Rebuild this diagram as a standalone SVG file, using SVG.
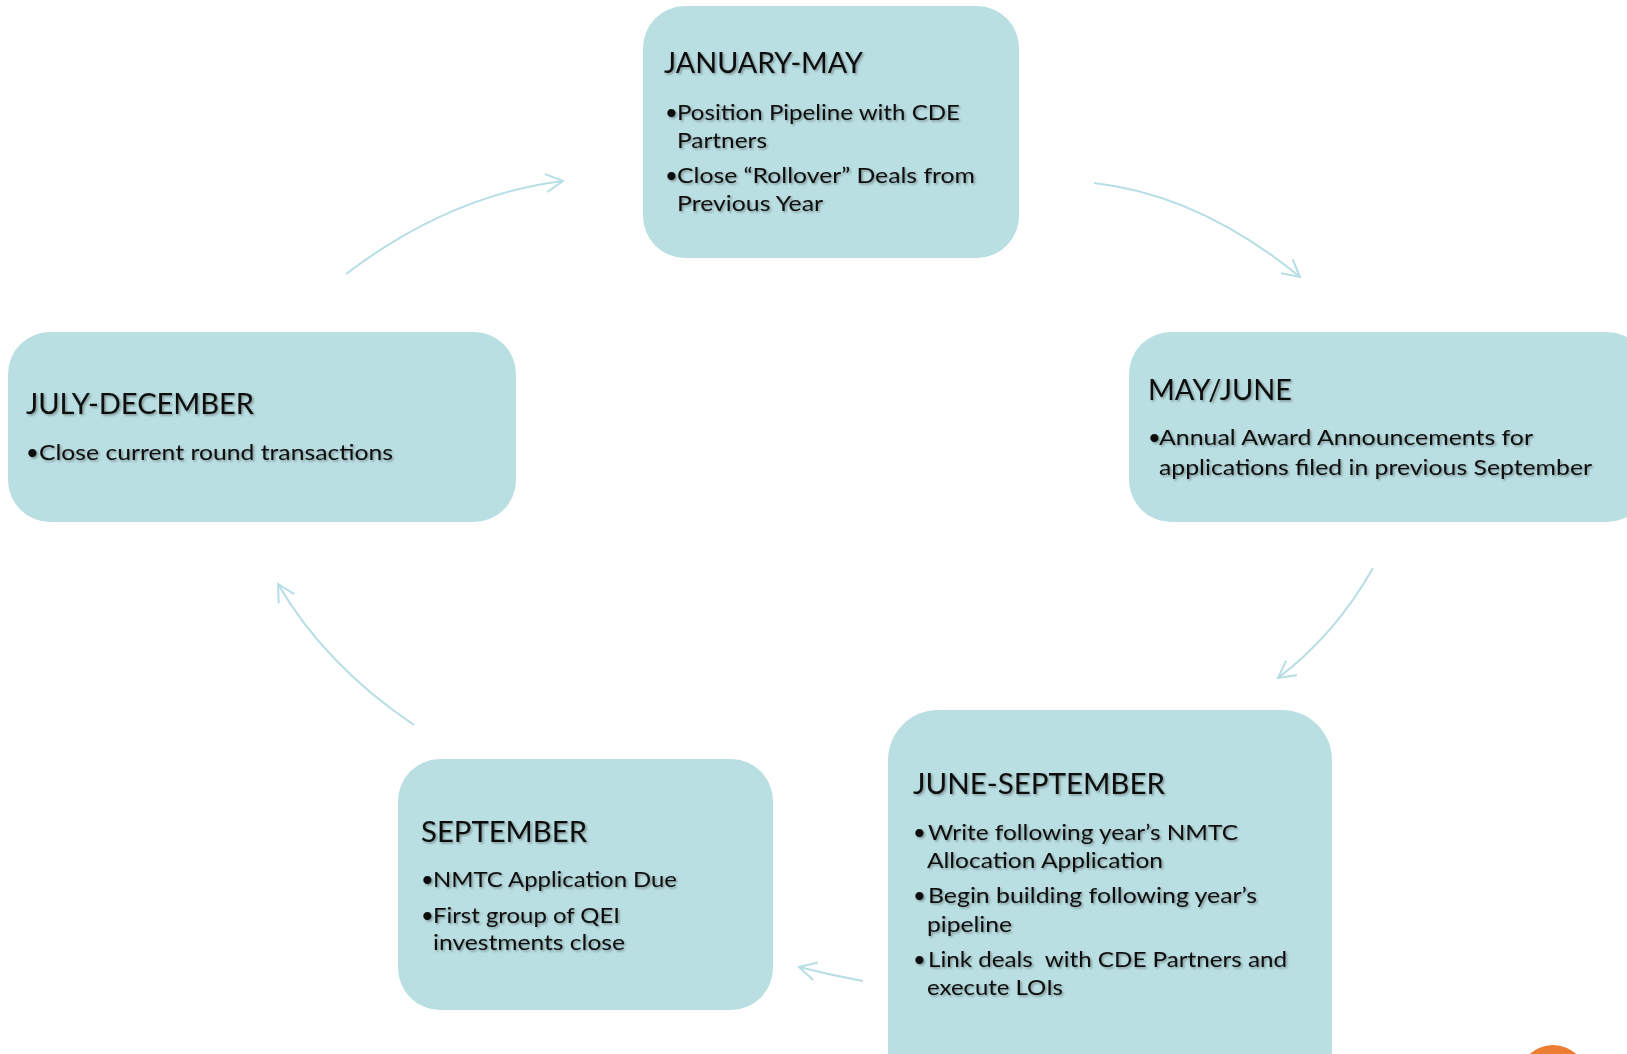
<svg xmlns="http://www.w3.org/2000/svg" width="1627" height="1054" viewBox="0 0 1627 1054">
<style>
.box{fill:#BADFE3;}
.t{font-family:Lato,"Liberation Sans",sans-serif;fill:#0d0d0d;filter:url(#sh);}
.ttl{font-size:28px;}
.b{font-size:22px;}
.c{fill:none;stroke:#B7DEE4;stroke-width:2;}
</style>
<defs>
<filter id="sh" x="-5%" y="-30%" width="110%" height="160%">
<feDropShadow dx="1.5" dy="1.5" stdDeviation="1" flood-color="#000" flood-opacity="0.35"/>
</filter>
<marker id="ah" markerUnits="userSpaceOnUse" markerWidth="40" markerHeight="40" refX="0" refY="0" viewBox="-20 -20 40 40" orient="auto" overflow="visible">
<path d="M-17,-9 L0,0 L-17,9" fill="none" stroke="#B7DEE4" stroke-width="2"/>
</marker>
</defs>
<rect width="1627" height="1054" fill="#ffffff"/>
<g id="connectors">
<path class="c" d="M346,274 Q450,195 563,181" marker-end="url(#ah)"/>
<path class="c" d="M1094,183 Q1200,195 1300,277" marker-end="url(#ah)"/>
<path class="c" d="M1373,568 Q1335,635 1278,678" marker-end="url(#ah)"/>
<path class="c" d="M863,981 Q830,975 799,967" marker-end="url(#ah)"/>
<path class="c" d="M414,725 Q325,665 278,584" marker-end="url(#ah)"/>
</g>
<g id="node-jan-may">
<rect class="box" x="643" y="6" width="376" height="252" rx="42"/>
<text class="t ttl" x="664" y="73" textLength="199" lengthAdjust="spacingAndGlyphs">JANUARY-MAY</text>
<text class="t b" x="665" y="120">•</text>
<text class="t b" x="677" y="120" textLength="283" lengthAdjust="spacingAndGlyphs">Position Pipeline with CDE</text>
<text class="t b" x="677" y="148" textLength="90" lengthAdjust="spacingAndGlyphs">Partners</text>
<text class="t b" x="665" y="183">•</text>
<text class="t b" x="677" y="183" textLength="298" lengthAdjust="spacingAndGlyphs">Close “Rollover” Deals from</text>
<text class="t b" x="677" y="211" textLength="146" lengthAdjust="spacingAndGlyphs">Previous Year</text>
</g>
<g id="node-may-june">
<rect class="box" x="1129" y="332" width="520" height="190" rx="42"/>
<text class="t ttl" x="1148" y="400" textLength="144" lengthAdjust="spacingAndGlyphs">MAY/JUNE</text>
<text class="t b" x="1148" y="445">•</text>
<text class="t b" x="1159" y="445" textLength="374" lengthAdjust="spacingAndGlyphs">Annual Award Announcements for</text>
<text class="t b" x="1159" y="475" textLength="433" lengthAdjust="spacingAndGlyphs">applications filed in previous September</text>
</g>
<g id="node-june-sept">
<rect class="box" x="888" y="710" width="444" height="400" rx="50"/>
<text class="t ttl" x="913" y="794" textLength="252" lengthAdjust="spacingAndGlyphs">JUNE-SEPTEMBER</text>
<text class="t b" x="913" y="840">•</text>
<text class="t b" x="928" y="840" textLength="310" lengthAdjust="spacingAndGlyphs">Write following year’s NMTC</text>
<text class="t b" x="927" y="868" textLength="236" lengthAdjust="spacingAndGlyphs">Allocation Application</text>
<text class="t b" x="913" y="903">•</text>
<text class="t b" x="928" y="903" textLength="329" lengthAdjust="spacingAndGlyphs">Begin building following year’s</text>
<text class="t b" x="927" y="932" textLength="85" lengthAdjust="spacingAndGlyphs">pipeline</text>
<text class="t b" x="913" y="967">•</text>
<text class="t b" x="928" y="967" textLength="359" lengthAdjust="spacingAndGlyphs" xml:space="preserve">Link deals  with CDE Partners and</text>
<text class="t b" x="927" y="995" textLength="136" lengthAdjust="spacingAndGlyphs">execute LOIs</text>
</g>
<g id="node-september">
<rect class="box" x="398" y="759" width="375" height="251" rx="42"/>
<text class="t ttl" x="421" y="842" textLength="166" lengthAdjust="spacingAndGlyphs">SEPTEMBER</text>
<text class="t b" x="421" y="887">•</text>
<text class="t b" x="433" y="887" textLength="244" lengthAdjust="spacingAndGlyphs">NMTC Application Due</text>
<text class="t b" x="421" y="923">•</text>
<text class="t b" x="433" y="923" textLength="187" lengthAdjust="spacingAndGlyphs">First group of QEI</text>
<text class="t b" x="433" y="950" textLength="192" lengthAdjust="spacingAndGlyphs">investments close</text>
</g>
<g id="node-july-dec">
<rect class="box" x="8" y="332" width="508" height="190" rx="42"/>
<text class="t ttl" x="26" y="414" textLength="228" lengthAdjust="spacingAndGlyphs">JULY-DECEMBER</text>
<text class="t b" x="26" y="460">•</text>
<text class="t b" x="39" y="460" textLength="354" lengthAdjust="spacingAndGlyphs">Close current round transactions</text>
</g>
<circle cx="1553" cy="1080" r="35" fill="#ED7D31"/>
</svg>
